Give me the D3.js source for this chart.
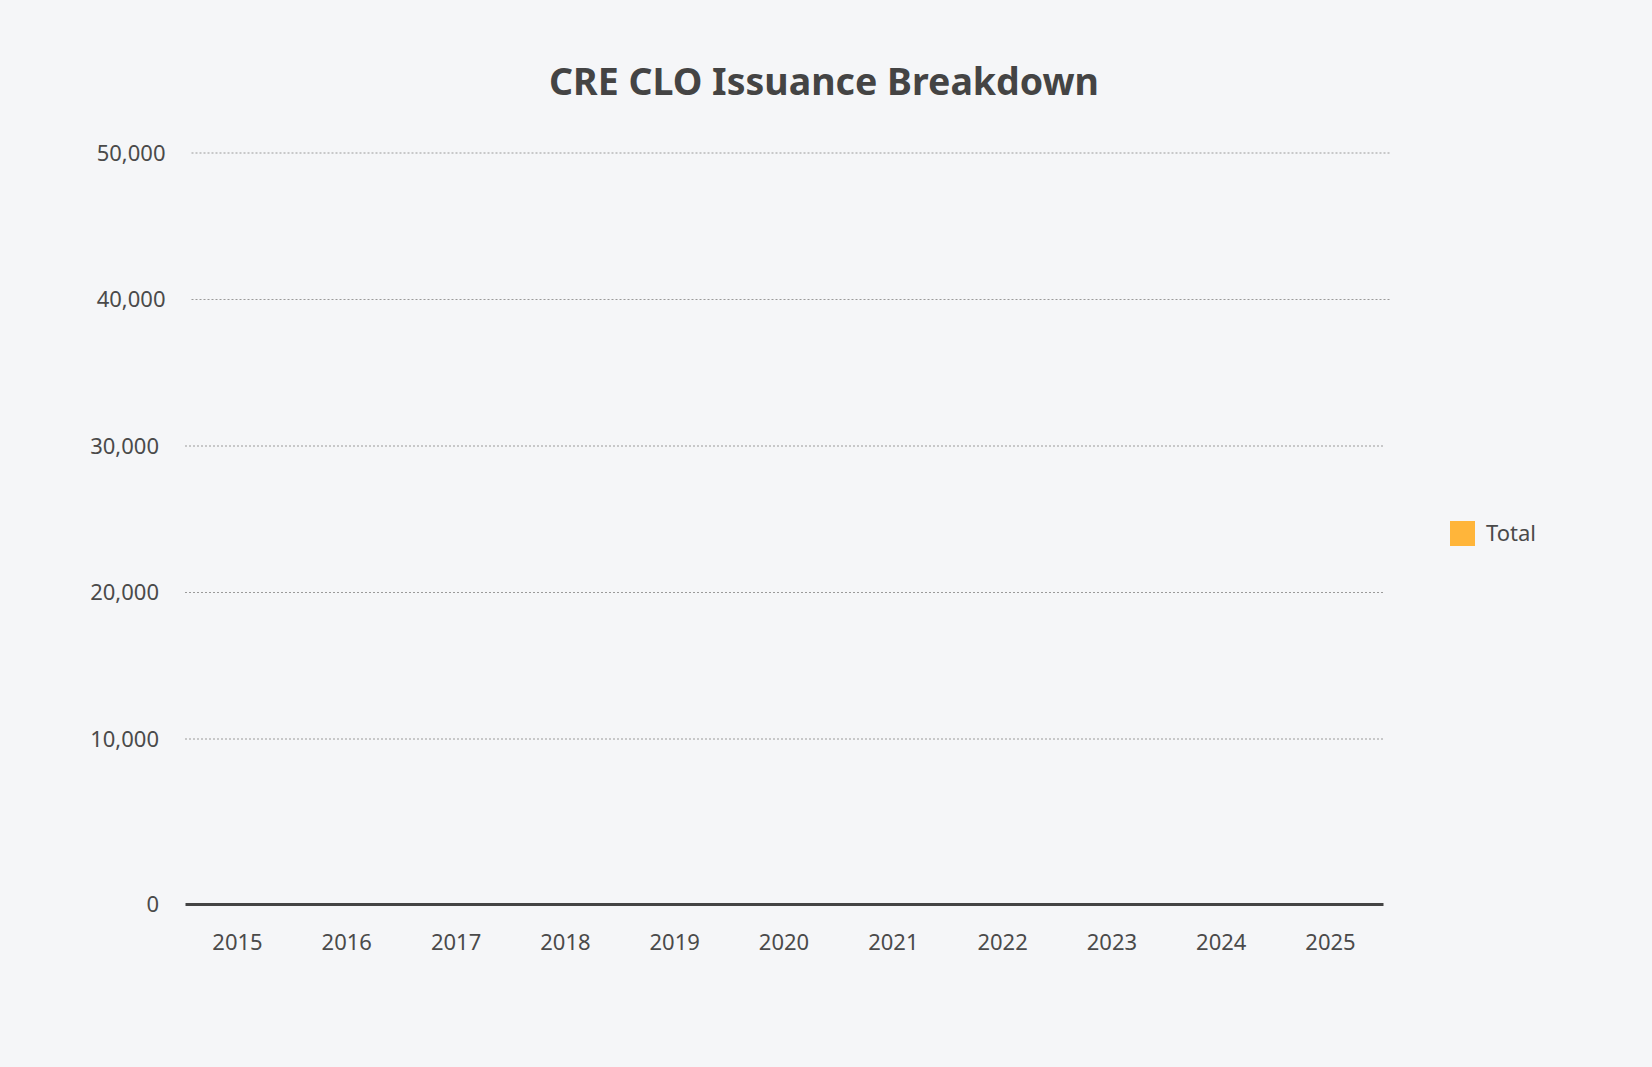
<!DOCTYPE html>
<html lang="en">
<head>
  <meta charset="UTF-8" />
  <title>CRE CLO Issuance Breakdown</title>
  <script src="https://cdnjs.cloudflare.com/ajax/libs/d3/7.8.4/d3.min.js"></script>
  <style>
    body {
      margin: 0;
      padding: 0;
      background-color: #f5f6f8;
      overflow: hidden;
      font-family: "Noto Sans", "Open Sans", sans-serif;
    }
    svg {
      display: block;
    }
    .grid line {
      stroke: #9a9a9a;
      stroke-width: 1px;
      stroke-dasharray: 2, 2;
    }
    .tick text {
      fill: #4a4a4a;
      font-size: 22px;
      font-family: "Noto Sans", "Open Sans", sans-serif;
    }
  </style>
</head>
<body>
  <svg></svg>
  <script>
    const years = ["2015", "2016", "2017", "2018", "2019", "2020", "2021", "2022", "2023", "2024", "2025"];
    // bars are still at zero height in the reference frame
    const totals = [0, 0, 0, 0, 0, 0, 0, 0, 0, 0, 0];
    const yTicks = [0, 10000, 20000, 30000, 40000, 50000];
    const seriesName = "Total";
    const seriesColor = "#ffb53a";

    const width = 1652;
    const height = 1067;

    const svg = d3.select("svg")
      .attr("width", width)
      .attr("height", height);

    const x = d3.scaleBand()
      .domain(years)
      .range([185, 1383])
      .paddingInner(0.2)
      .paddingOuter(0.08);

    // the baseline sits a bit below the evenly spaced grid, so the scale has a knee at 10k
    const y = d3.scaleLinear()
      .domain([0, 10000, 50000])
      .range([904, 739, 153]);

    svg.append("text")
      .attr("x", 824)
      .attr("y", 95)
      .attr("text-anchor", "middle")
      .style("font-size", "37.5px")
      .style("font-weight", "bold")
      .style("fill", "#444")
      .text("CRE CLO Issuance Breakdown");

    // gridlines + y labels
    const grid = svg.append("g")
      .attr("class", "grid")
      .selectAll("g")
      .data(yTicks)
      .enter()
      .append("g")
      .attr("class", "tick")
      .attr("transform", d => `translate(${d >= 40000 ? 6.5 : 0},${y(d)})`);

    grid.filter(d => d > 0)
      .append("line")
      .attr("x1", 185)
      .attr("x2", 1383);

    grid.append("text")
      .attr("x", 159)
      .attr("dy", "0.35em")
      .attr("text-anchor", "end")
      .text(d => d3.format(",")(d));

    // bars
    svg.append("g")
      .selectAll("rect")
      .data(totals)
      .enter()
      .append("rect")
      .attr("x", (d, i) => x(years[i]))
      .attr("width", x.bandwidth())
      .attr("y", d => y(d))
      .attr("height", d => y(0) - y(d))
      .attr("fill", seriesColor);

    // x axis
    const xAxis = svg.append("g")
      .attr("transform", `translate(0,${y(0)})`)
      .call(d3.axisBottom(x).tickSize(0).tickPadding(30));

    xAxis.select(".domain")
      .attr("stroke", "#444")
      .attr("stroke-width", 3);

    // legend
    const legend = svg.append("g")
      .attr("transform", "translate(1450,521)");

    legend.append("rect")
      .attr("width", 25)
      .attr("height", 25)
      .attr("fill", seriesColor);

    legend.append("text")
      .attr("x", 36)
      .attr("y", 12.5)
      .attr("dy", "0.35em")
      .style("font-size", "22px")
      .style("fill", "#4a4a4a")
      .text(seriesName);
  </script>
</body>
</html>
